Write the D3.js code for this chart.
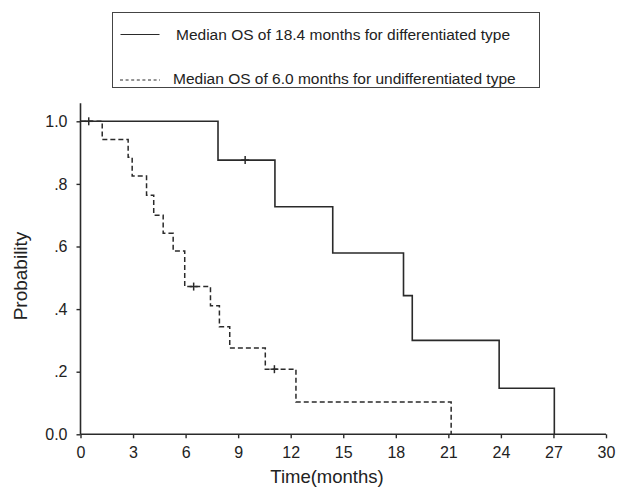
<!DOCTYPE html>
<html>
<head>
<meta charset="utf-8">
<script src="https://cdn.jsdelivr.net/npm/d3@7"></script>
<style>
  html, body { margin: 0; padding: 0; background: #fff; }
  svg { display: block; font-family: "Liberation Sans", Arial, sans-serif; }
</style>
</head>
<body>
<svg id="chart" width="620" height="491"></svg>
<script>
// ---- Data ----
const xTicks = [0, 3, 6, 9, 12, 15, 18, 21, 24, 27, 30];
const yTicks = [0, 0.2, 0.4, 0.6, 0.8, 1.0];
const yTickLabels = ["0.0", ".2", ".4", ".6", ".8", "1.0"];

const diffTimes = [0, 7.85, 11.1, 14.4, 18.44, 18.94, 23.9, 27.05];
const diffSurv  = [1.0, 0.876, 0.727, 0.579, 0.443, 0.300, 0.147, 0];
const diffCensorTimes = [0.47, 9.4];
const diffCensorSurv  = [1.0, 0.876];

const undTimes = [0, 1.24, 2.72, 2.95, 3.77, 4.18, 4.72, 5.29, 5.95, 7.42, 7.93, 8.52, 10.55, 12.3, 21.16];
const undSurv  = [1.0, 0.942, 0.885, 0.825, 0.764, 0.70, 0.642, 0.586, 0.472, 0.411, 0.344, 0.276, 0.208, 0.103, 0];
const undCensorTimes = [6.46, 11.07];
const undCensorSurv  = [0.472, 0.208];

const legendLabels = [
  "Median OS of 18.4 months for differentiated type",
  "Median OS of 6.0 months for undifferentiated type"
];

// ---- Drawing ----
const svg = d3.select("#chart");
const ink = "#2a2a2a";

const x = d3.scaleLinear().domain([0, 30]).range([80.5, 606]);
const y = d3.scaleLinear().domain([0, 1]).range([434.3, 121.3]);

// X axis
const xAxis = d3.axisBottom(x).tickValues(xTicks).tickSize(4).tickPadding(8)
  .tickFormat(d3.format("d"));
const gx = svg.append("g").attr("transform", `translate(0,${y(0)})`).call(xAxis);
gx.select(".domain").remove();
gx.append("line").attr("x1", x(0)).attr("x2", x(30)).attr("y1", 0).attr("y2", 0)
  .attr("stroke", ink).attr("stroke-width", 1.6);
gx.selectAll(".tick line").attr("stroke", ink).attr("stroke-width", 1.4);
gx.selectAll(".tick text").attr("fill", "#222").style("font-size", "16px");

// Y axis
const yAxis = d3.axisLeft(y).tickValues(yTicks).tickSize(4).tickPadding(9)
  .tickFormat((d, i) => yTickLabels[i]);
const gy = svg.append("g").attr("transform", `translate(${x(0)},0)`).call(yAxis);
gy.select(".domain").remove();
gy.append("line").attr("x1", 0).attr("x2", 0).attr("y1", y(0)).attr("y2", y(1.058))
  .attr("stroke", ink).attr("stroke-width", 1.6);
gy.selectAll(".tick line").attr("stroke", ink).attr("stroke-width", 1.4);
gy.selectAll(".tick text").attr("fill", "#222").style("font-size", "16px");

// Axis titles
svg.append("text").attr("x", 327).attr("y", 483).attr("text-anchor", "middle")
  .attr("fill", "#222").style("font-size", "18.5px").text("Time(months)");
svg.append("text").attr("transform", "translate(27,276) rotate(-90)")
  .attr("text-anchor", "middle").attr("fill", "#222").style("font-size", "19px")
  .text("Probability");

// Step curves
function stepPath(times, surv) {
  const pts = times.map((t, i) => [t, surv[i]]);
  return d3.line().x(d => x(d[0])).y(d => y(d[1])).curve(d3.curveStepAfter)(pts);
}
// extend the last point so the vertical drop to 0 is drawn
svg.append("path").attr("d", stepPath(diffTimes, diffSurv))
  .attr("fill", "none").attr("stroke", ink).attr("stroke-width", 1.6);
svg.append("path").attr("d", stepPath(undTimes, undSurv))
  .attr("fill", "none").attr("stroke", ink).attr("stroke-width", 1.5)
  .attr("stroke-dasharray", "5,3");

// Censor marks
function censors(times, surv) {
  times.forEach((t, i) => {
    const cx = x(t), cy = y(surv[i]);
    svg.append("line").attr("x1", cx - 4).attr("x2", cx + 4).attr("y1", cy).attr("y2", cy)
      .attr("stroke", ink).attr("stroke-width", 1.5);
    svg.append("line").attr("x1", cx).attr("x2", cx).attr("y1", cy - 4).attr("y2", cy + 4)
      .attr("stroke", ink).attr("stroke-width", 1.5);
  });
}
censors(diffCensorTimes, diffCensorSurv);
censors(undCensorTimes, undCensorSurv);

// Legend
svg.append("rect").attr("x", 112.5).attr("y", 12.5).attr("width", 427).attr("height", 75)
  .attr("fill", "none").attr("stroke", "#444").attr("stroke-width", 1);
const legY = [34.5, 78];
svg.append("line").attr("x1", 120.5).attr("x2", 159.5).attr("y1", legY[0]).attr("y2", legY[0])
  .attr("stroke", ink).attr("stroke-width", 1.2);
svg.append("line").attr("x1", 120).attr("x2", 160).attr("y1", legY[1] + 2).attr("y2", legY[1] + 2)
  .attr("stroke", ink).attr("stroke-width", 1).attr("stroke-dasharray", "3,2.6");
svg.append("text").attr("x", 176).attr("y", legY[0] + 5.5).attr("fill", "#222")
  .style("font-size", "15.5px").text(legendLabels[0]);
svg.append("text").attr("x", 173).attr("y", legY[1] + 5.5).attr("fill", "#222")
  .style("font-size", "15.5px").text(legendLabels[1]);
</script>
</body>
</html>
